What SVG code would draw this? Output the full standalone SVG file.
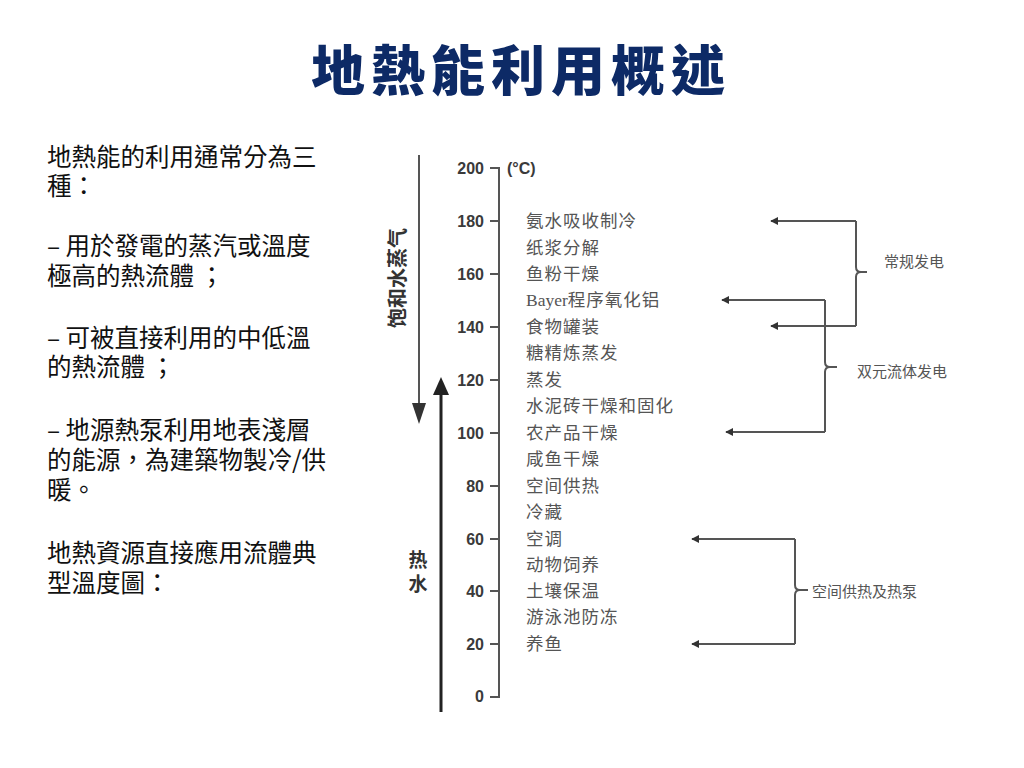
<svg xmlns="http://www.w3.org/2000/svg" width="1024" height="768" viewBox="0 0 1024 768">
<defs>
<style>
.title{font-family:"Noto Sans CJK TC","Noto Sans CJK SC",sans-serif;font-weight:900;font-size:54px;fill:#0d2a66;letter-spacing:6px}
.body{font-family:"Noto Sans CJK TC",sans-serif;font-size:24.5px;fill:#111}
.num{font-family:"Liberation Sans",Arial,sans-serif;font-size:16px;font-weight:bold;fill:#3a3a3a}
.lab{font-family:"Noto Sans CJK SC",sans-serif;font-size:17.5px;fill:#555;letter-spacing:1px}
.ser{font-family:"Liberation Serif",serif;letter-spacing:0}
.side{font-family:"Noto Sans CJK SC",sans-serif;font-size:15px;fill:#555}
.vt{font-family:"Noto Sans CJK SC",sans-serif;font-size:19px;font-weight:bold;fill:#333}
.ax{stroke:#555;stroke-width:2;fill:none}
.con{stroke:#555;stroke-width:2;fill:none}
</style>
<marker id="ah" viewBox="0 0 10 10" refX="9" refY="5" markerWidth="4" markerHeight="4" orient="auto-start-reverse">
<path d="M0,0 L10,5 L0,10 z" fill="#333"/>
</marker>
</defs>
<rect width="1024" height="768" fill="#fff"/>
<text class="title" x="521" y="91" text-anchor="middle">地熱能利用概述</text>

<g id="bodytext">
<text class="body" x="47" y="166">地熱能的利用通常分為三</text>
<text class="body" x="47" y="195">種：</text>
<text class="body" x="47" y="255">– 用於發電的蒸汽或溫度</text>
<text class="body" x="47" y="285">極高的熱流體 ；</text>
<text class="body" x="47" y="347">– 可被直接利用的中低溫</text>
<text class="body" x="47" y="376">的熱流體 ；</text>
<text class="body" x="47" y="439">– 地源熱泵利用地表淺層</text>
<text class="body" x="47" y="469">的能源，為建築物製冷/供</text>
<text class="body" x="47" y="499">暖。</text>
<text class="body" x="47" y="562">地熱資源直接應用流體典</text>
<text class="body" x="47" y="592">型溫度圖：</text>
</g>

<g id="axis">
<path class="ax" d="M490,168 H499 V697 H490"/>
<path class="ax" d="M490,221 H499 M490,274 H499 M490,327 H499 M490,380 H499 M490,433 H499 M490,486 H499 M490,539 H499 M490,591 H499 M490,644 H499"/>
<text class="num" x="484" y="174" text-anchor="end">200</text>
<text class="num" x="484" y="227" text-anchor="end">180</text>
<text class="num" x="484" y="280" text-anchor="end">160</text>
<text class="num" x="484" y="333" text-anchor="end">140</text>
<text class="num" x="484" y="386" text-anchor="end">120</text>
<text class="num" x="484" y="439" text-anchor="end">100</text>
<text class="num" x="484" y="492" text-anchor="end">80</text>
<text class="num" x="484" y="545" text-anchor="end">60</text>
<text class="num" x="484" y="597" text-anchor="end">40</text>
<text class="num" x="484" y="650" text-anchor="end">20</text>
<text class="num" x="484" y="702" text-anchor="end">0</text>
<text class="num" x="507" y="174">(°C)</text>
</g>

<g id="labels">
<text class="lab" x="526" y="227">氨水吸收制冷</text>
<text class="lab" x="526" y="254">纸浆分解</text>
<text class="lab" x="526" y="280">鱼粉干燥</text>
<text class="lab" x="526" y="306"><tspan class="ser">Bayer</tspan>程序氧化铝</text>
<text class="lab" x="526" y="333">食物罐装</text>
<text class="lab" x="526" y="359">糖精炼蒸发</text>
<text class="lab" x="526" y="386">蒸发</text>
<text class="lab" x="526" y="412">水泥砖干燥和固化</text>
<text class="lab" x="526" y="439">农产品干燥</text>
<text class="lab" x="526" y="465">咸鱼干燥</text>
<text class="lab" x="526" y="492">空间供热</text>
<text class="lab" x="526" y="518">冷藏</text>
<text class="lab" x="526" y="545">空调</text>
<text class="lab" x="526" y="571">动物饲养</text>
<text class="lab" x="526" y="597">土壤保温</text>
<text class="lab" x="526" y="623">游泳池防冻</text>
<text class="lab" x="526" y="650">养鱼</text>
</g>

<g id="steam">
<line x1="419" y1="155" x2="419" y2="405" stroke="#555" stroke-width="2"/>
<path d="M412,403 L426,403 L419,424 z" fill="#333"/>
<text class="vt" transform="translate(398,278) rotate(-90)" x="0" y="7" text-anchor="middle" style="font-size:20px">饱和水蒸气</text>
</g>
<g id="hotwater">
<line x1="441" y1="712" x2="441" y2="392" stroke="#222" stroke-width="3"/>
<path d="M433,395 L449,395 L441,377 z" fill="#222"/>
<text class="vt" x="418" y="567" text-anchor="middle">热</text>
<text class="vt" x="418" y="591" text-anchor="middle">水</text>
</g>

<g id="connectors">
<path class="con" d="M856,221 H771" marker-end="url(#ah)"/>
<path class="con" d="M856,326 H771" marker-end="url(#ah)"/>
<path class="con" d="M825,300 H722" marker-end="url(#ah)"/>
<path class="con" d="M825,432 H726" marker-end="url(#ah)"/>
<path class="con" d="M795,539 H692" marker-end="url(#ah)"/>
<path class="con" d="M795,644 H692" marker-end="url(#ah)"/>
</g>

<g id="brace-conventional">
<path class="con" d="M856,221 V267 Q856,272 861,272 H867 M861,272 Q856,272 856,277 V326"/>
<text class="side" x="884" y="267">常规发电</text>
</g>
<g id="brace-binary">
<path class="con" d="M825,300 V362 Q825,367 830,367 H837 M830,367 Q825,367 825,372 V432"/>
<text class="side" x="857" y="377">双元流体发电</text>
</g>
<g id="brace-heatpump">
<path class="con" d="M795,539 V585 Q795,590 800,590 H808 M800,590 Q795,590 795,595 V644"/>
<text class="side" x="812" y="597">空间供热及热泵</text>
</g>
</svg>
